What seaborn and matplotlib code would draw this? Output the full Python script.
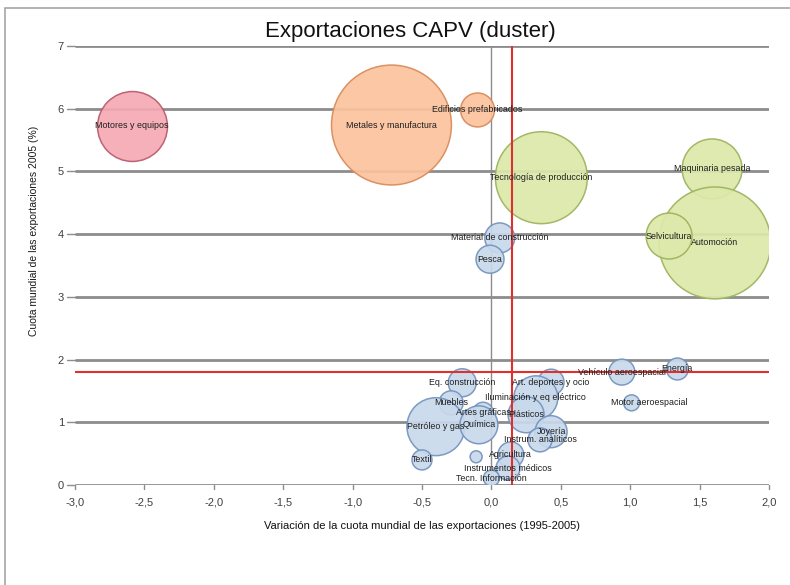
import matplotlib
matplotlib.use("Agg")
import matplotlib.pyplot as plt
import matplotlib.patches as mpatches
import seaborn as sns
import pandas as pd

# --- data -------------------------------------------------------------
sectores = [
    "Motores y equipos", "Metales y manufactura", "Edificios prefabricados",
    "Tecnología de producción", "Maquinaria pesada", "Automoción", "Selvicultura",
    "Material de construcción", "Pesca", "Vehículo aeroespacial", "Energía",
    "Motor aeroespacial", "Eq. construcción", "Art. deportes y ocio",
    "Iluminación y eq eléctrico", "Plásticos", "Muebles", "Artes gráficas",
    "Petróleo y gas", "Química", "Joyería", "Instrum. analíticos", "Agricultura",
    "", "Instrumentos médicos", "Tecn. Información", "Textil",
]
variacion_cuota = [
    -2.59, -0.72, -0.10, 0.36, 1.59, 1.61, 1.28, 0.06, -0.01, 0.94, 1.34,
    1.01, -0.21, 0.43, 0.32, 0.25, -0.29, -0.06, -0.40, -0.09, 0.43, 0.35,
    0.14, -0.11, 0.12, 0.00, -0.50,
]
cuota_mundial = [
    5.73, 5.74, 5.98, 4.90, 5.04, 3.86, 3.97, 3.94, 3.60, 1.80, 1.85,
    1.31, 1.63, 1.64, 1.39, 1.12, 1.31, 1.16, 0.93, 0.96, 0.85, 0.72,
    0.48, 0.45, 0.27, 0.11, 0.40,
]
peso_exportador = [
    306, 900, 72, 529, 225, 784, 132, 56, 49, 42, 30,
    16, 49, 42, 121, 81, 36, 25, 210, 90, 64, 36,
    42, 9, 36, 16, 25,
]
grupo = [
    "rojo", "naranja", "naranja", "verde", "verde", "verde", "verde",
    "azul", "azul", "azul", "azul", "azul", "azul", "azul", "azul", "azul",
    "azul", "azul", "azul", "azul", "azul", "azul", "azul", "azul", "azul",
    "azul", "azul",
]
x_ticks = [-3.0, -2.5, -2.0, -1.5, -1.0, -0.5, 0.0, 0.5, 1.0, 1.5, 2.0]
y_ticks = [0, 1, 2, 3, 4, 5, 6, 7]
umbral_x = 0.15
umbral_y = 1.8

df = pd.DataFrame({
    "sector": sectores, "x": variacion_cuota, "y": cuota_mundial,
    "peso": peso_exportador, "grupo": grupo,
})

relleno = {"rojo": "#f5a9b4", "naranja": "#fcc39d", "verde": "#dce9aa", "azul": "#c9d9ec"}
borde = {"rojo": "#b85a6a", "naranja": "#d98a58", "verde": "#9cb35c", "azul": "#7393bd"}

# --- figure -----------------------------------------------------------
sns.set_theme(style="white")
plt.rcParams["font.family"] = ["Liberation Sans Narrow", "Liberation Sans", "DejaVu Sans"]

fig = plt.figure(figsize=(7.9, 5.85), dpi=100)
fig.patches.append(mpatches.Rectangle((5 / 790, -0.01), 1.0, 1 - 8 / 585 + 0.01,
                                      transform=fig.transFigure, fill=False,
                                      edgecolor="#a6a6a6", linewidth=1.2))
ax = fig.add_axes([75 / 790, 1 - 485 / 585, (769 - 75) / 790, (485 - 46) / 585])

# horizontal grid lines
for yv in y_ticks:
    ax.plot([x_ticks[0], x_ticks[-1]], [yv, yv], color="#8c8c8c", lw=2.0,
            zorder=1, solid_capstyle="butt")
# vertical axis at x = 0
ax.plot([0, 0], [0, 7], color="#8c8c8c", lw=1.0, zorder=1)

# bubbles, area proportional to weight
smax = 900 * 8.28
for g in ["rojo", "naranja", "verde", "azul"]:
    sub = df[df["grupo"] == g]
    sns.scatterplot(data=sub, x="x", y="y", size="peso", sizes=(0, smax),
                    size_norm=(0, 900), color=relleno[g], edgecolor=borde[g],
                    linewidth=1.1, alpha=0.92, legend=False, ax=ax, zorder=3)

# threshold lines
ax.plot([umbral_x, umbral_x], [0, 7], color="#e0302e", lw=1.5, zorder=4)
ax.plot([x_ticks[0], x_ticks[-1]], [umbral_y, umbral_y], color="#e0302e", lw=1.5, zorder=4)

# bubble labels
desplaz = {"Motor aeroespacial": 13}
for s, xv, yv in zip(sectores, variacion_cuota, cuota_mundial):
    if not s:
        continue
    ax.annotate(s, (xv, yv), xytext=(desplaz.get(s, 0), 0), textcoords="offset points",
                ha="center", va="center", fontsize=6.4, color="#1e1e1e", zorder=5)

ax.set_xlim(x_ticks[0], x_ticks[-1])
ax.set_ylim(0, 7)
for sp in ax.spines.values():
    sp.set_visible(False)
ax.set_xticks(x_ticks)
ax.set_xticklabels([f"{v:.1f}".replace(".", ",") for v in x_ticks])
ax.set_yticks(y_ticks)
ax.tick_params(axis="both", labelsize=8, colors="#404040", length=0, pad=9)
ax.tick_params(axis="y", pad=8)
# small tick marks
for xv in x_ticks:
    ax.plot([xv, xv], [0, -0.06], color="#8c8c8c", lw=1.0, clip_on=False, zorder=1)
for yv in y_ticks:
    ax.plot([-3.06, -3.0], [yv, yv], color="#8c8c8c", lw=1.0, clip_on=False, zorder=1)

ax.set_xlabel("Variación de la cuota mundial de las exportaciones (1995-2005)",
              fontsize=8, color="#111111", labelpad=10)
ax.set_ylabel("Cuota mundial de las exportaciones 2005 (%)", fontsize=7.5,
              color="#1a1a1a")
ax.yaxis.set_label_coords(-0.052, 0.58)

fig.text(410 / 790, 1 - 32 / 585, "Exportaciones CAPV (duster)", ha="center",
         va="center", fontsize=16, color="#111111")

fig.savefig("out.png", dpi=100)
